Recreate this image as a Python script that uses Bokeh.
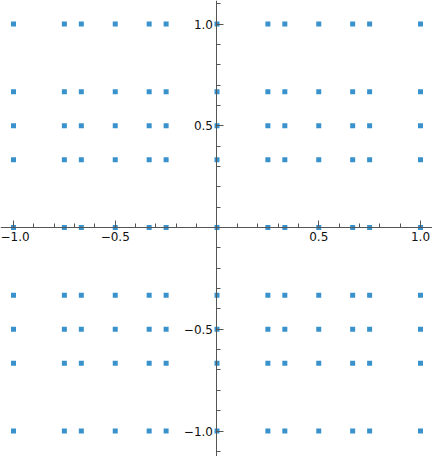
from bokeh.plotting import figure
from bokeh.models import FixedTicker, Range1d
from bokeh.embed import file_html
from bokeh.resources import INLINE

# Data: a full grid of x and y values
x_values = [-1, -3/4, -2/3, -1/2, -1/3, -1/4, 0, 1/4, 1/3, 1/2, 2/3, 3/4, 1]
y_values = [-1, -2/3, -1/2, -1/3, 0, 1/3, 1/2, 2/3, 1]

major_ticks = [-1.0, -0.5, 0.0, 0.5, 1.0]
minor_ticks = [-1.1, -0.9, -0.8, -0.7, -0.6, -0.4, -0.3, -0.2, -0.1,
               0.1, 0.2, 0.3, 0.4, 0.6, 0.7, 0.8, 0.9, 1.1]
tick_labels = {-1.0: "\u22121.0", -0.5: "\u22120.5", 0.0: "", 0.5: "0.5", 1.0: "1.0"}

xs = [x for x in x_values for _ in y_values]
ys = [y for _ in x_values for y in y_values]

p = figure(width=432, height=456, output_backend="svg", toolbar_location=None,
           x_range=Range1d(-1.0639, 1.0590), y_range=Range1d(-1.1253, 1.1155),
           min_border=0, min_border_left=0, min_border_right=0,
           min_border_top=0, min_border_bottom=0)
p.outline_line_color = None
p.grid.visible = False
p.background_fill_color = "white"
p.border_fill_color = "white"

p.scatter(xs, ys, marker="square", size=5, fill_color="#3a92cc",
          line_color=None)

axis_color = "#555555"
for ax in (p.xaxis[0], p.yaxis[0]):
    ax.ticker = FixedTicker(ticks=major_ticks, minor_ticks=minor_ticks)
    ax.fixed_location = 0
    ax.major_label_overrides = tick_labels
    ax.axis_line_color = axis_color
    ax.major_tick_line_color = axis_color
    ax.minor_tick_line_color = axis_color
    ax.major_tick_in = 7
    ax.major_tick_out = 0
    ax.minor_tick_in = 4
    ax.minor_tick_out = 0
    ax.major_label_text_font = "DejaVu Sans"
    ax.major_label_text_font_size = "12px"
    ax.major_label_text_color = "#111111"
    ax.major_label_standoff = 4

open("out.html", "w").write(file_html(p, INLINE))
